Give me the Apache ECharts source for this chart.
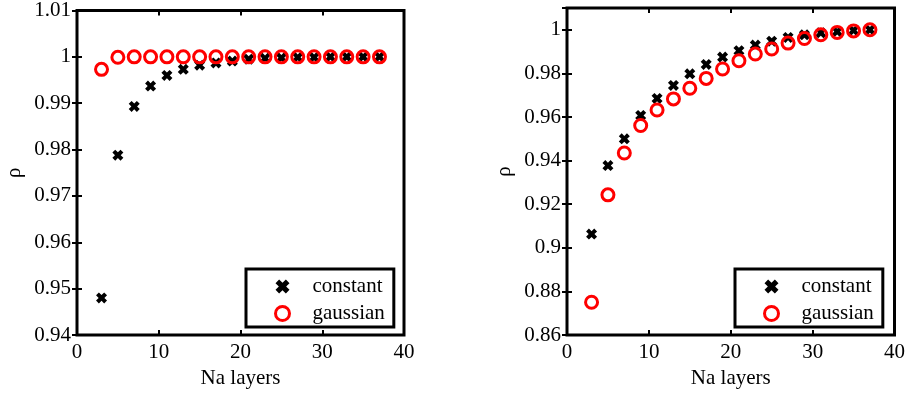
<!DOCTYPE html>
<html>
<head>
<meta charset="utf-8">
<script src="https://cdn.jsdelivr.net/npm/echarts@6/dist/echarts.min.js"></script>
<style>
  html, body { margin: 0; padding: 0; background: #fff; }
  #chart { width: 908px; height: 394px; }
</style>
</head>
<body>
<div id="chart"></div>
<script>
// Number of Na layers (shared by both panels)
const naLayers = [3, 5, 7, 9, 11, 13, 15, 17, 19, 21, 23, 25, 27, 29, 31, 33, 35, 37];

// Left panel
const leftConstant = [0.948, 0.9788, 0.9893, 0.9937, 0.9960, 0.9973, 0.9982, 0.9987, 0.9991,
                      0.9995, 0.9997, 0.9998, 0.9999, 0.9999, 1.0, 1.0, 1.0, 1.0];
const leftGaussian = [0.9973, 0.9999, 1.0, 1.0, 1.0, 1.0, 1.0, 1.0, 1.0,
                      1.0, 1.0, 1.0, 1.0, 1.0, 1.0, 1.0, 1.0, 1.0];

// Right panel
const rightConstant = [0.9063, 0.9377, 0.9500, 0.9607, 0.9685, 0.9745, 0.9798, 0.9841, 0.9875,
                       0.9904, 0.9930, 0.9948, 0.9965, 0.9977, 0.9986, 0.9992, 0.9997, 1.0];
const rightGaussian = [0.8750, 0.9243, 0.9435, 0.9561, 0.9632, 0.9683, 0.9732, 0.9777, 0.9820,
                       0.9858, 0.9889, 0.9912, 0.9939, 0.9960, 0.9977, 0.9988, 0.9995, 1.0];

const xTicks = [0, 10, 20, 30, 40];
const seriesNames = ['constant', 'gaussian'];

const FONT = 'Liberation Serif';
const FONT_SIZE = 21;
// bold "x" marker as a filled outline
const crossPath = 'path://M0,2.6L2.6,0L5,2.4L7.4,0L10,2.6L7.6,5L10,7.4L7.4,10L5,7.6L2.6,10L0,7.4L2.4,5Z';

function pairs(xs, ys) { return xs.map((x, i) => [x, ys[i]]); }

const grids = [
  { left: 77, top: 7, width: 327, height: 328 },
  { left: 567, top: 8, width: 328, height: 327 }
];

const yRanges = [
  { min: 0.94, max: 1.01, interval: 0.01, hideMax: false },
  { min: 0.86, max: 1.01, interval: 0.02, hideMax: true }
];

const tickStyle = { show: true, inside: true, length: 5, lineStyle: { color: '#000', width: 2 } };
const labelStyle = { color: '#000', fontFamily: FONT, fontSize: FONT_SIZE };

const crossStyle = { color: '#000', opacity: 1 };
const ringStyle = { color: 'rgba(255,255,255,0)', borderColor: '#ff0000', borderWidth: 3, opacity: 1 };

const option = {
  animation: false,
  backgroundColor: '#fff',
  grid: grids.map(g => Object.assign({ show: true, borderColor: '#000', borderWidth: 3, backgroundColor: 'transparent' }, g)),
  xAxis: [],
  yAxis: [],
  legend: [],
  series: []
};

grids.forEach((g, gi) => {
  // bottom x axis (with labels)
  option.xAxis.push({
    type: 'value', gridIndex: gi, min: xTicks[0], max: xTicks[xTicks.length - 1], interval: 10,
    position: 'bottom',
    axisLine: { show: false }, splitLine: { show: false },
    axisTick: tickStyle,
    axisLabel: Object.assign({ margin: 7 }, labelStyle),
    name: 'Na layers', nameLocation: 'middle', nameGap: 33,
    nameTextStyle: labelStyle
  });
  // top x axis (ticks only)
  option.xAxis.push({
    type: 'value', gridIndex: gi, min: xTicks[0], max: xTicks[xTicks.length - 1], interval: 10,
    position: 'top',
    axisLine: { show: false }, splitLine: { show: false },
    axisTick: tickStyle, axisLabel: { show: false }
  });
  const yr = yRanges[gi];
  option.yAxis.push({
    type: 'value', gridIndex: gi, min: yr.min, max: yr.max, interval: yr.interval,
    position: 'left',
    axisLine: { show: false }, splitLine: { show: false },
    axisTick: tickStyle,
    axisLabel: Object.assign({
      margin: 6,
      formatter: v => (yr.hideMax && v > 1.005) ? '' : String(+v.toFixed(4))
    }, labelStyle),
    name: 'ρ', nameLocation: 'middle', nameGap: 52,
    nameTextStyle: labelStyle
  });
  option.yAxis.push({
    type: 'value', gridIndex: gi, min: yr.min, max: yr.max, interval: yr.interval,
    position: 'right',
    axisLine: { show: false }, splitLine: { show: false },
    axisTick: tickStyle, axisLabel: { show: false }
  });
});

const panels = [
  { constant: leftConstant, gaussian: leftGaussian },
  { constant: rightConstant, gaussian: rightGaussian }
];

panels.forEach((p, gi) => {
  option.series.push({
    name: seriesNames[0], type: 'scatter', xAxisIndex: gi * 2, yAxisIndex: gi * 2,
    symbol: crossPath, symbolSize: 11,
    itemStyle: crossStyle,
    data: pairs(naLayers, p.constant), z: 2
  });
  option.series.push({
    name: seriesNames[1], type: 'scatter', xAxisIndex: gi * 2, yAxisIndex: gi * 2,
    symbol: 'circle', symbolSize: 12,
    itemStyle: ringStyle,
    data: pairs(naLayers, p.gaussian), z: 3
  });
});

// legends: each placed inside the lower-right corner of its panel
const legendPos = [{ left: 246, top: 269 }, { left: 735, top: 269 }];
legendPos.forEach((pos, gi) => {
  option.legend.push(Object.assign({
    orient: 'vertical',
    padding: [7, 9, 3, 28],
    itemWidth: 50, itemHeight: 14, itemGap: 6,
    borderColor: '#000', borderWidth: 3, backgroundColor: '#fff',
    textStyle: { color: '#000', fontFamily: FONT, fontSize: FONT_SIZE },
    selectedMode: false,
    data: [
      { name: seriesNames[0], icon: crossPath, itemStyle: crossStyle },
      { name: seriesNames[1], icon: 'circle', itemStyle: ringStyle }
    ]
  }, pos));
});

const chart = echarts.init(document.getElementById('chart'), null, { renderer: 'canvas' });
chart.setOption(option);
</script>
</body>
</html>
